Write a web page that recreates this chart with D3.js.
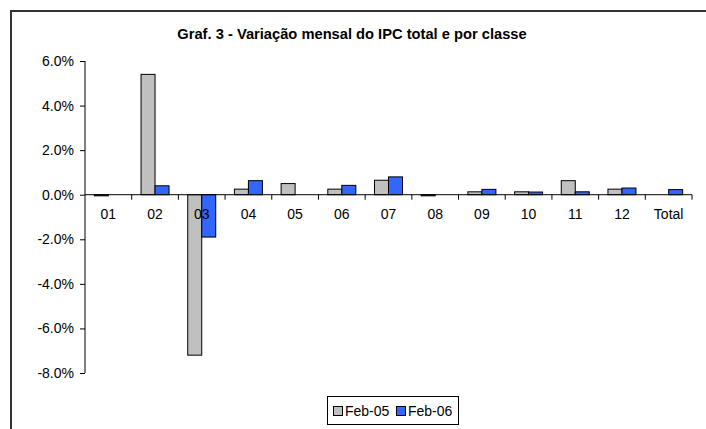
<!DOCTYPE html>
<html>
<head>
<meta charset="utf-8">
<script src="https://cdn.jsdelivr.net/npm/d3@7"></script>
<style>
  body { margin: 0; background: #fff; }
  svg { display: block; font-family: Arial, "Liberation Sans", sans-serif; }
</style>
</head>
<body>
<div id="chart"></div>
<script>
'use strict';

const categories = ['01', '02', '03', '04', '05', '06', '07', '08', '09', '10', '11', '12', 'Total'];
const seriesNames = ['Feb-05', 'Feb-06'];
const feb05 = [-0.05, 5.4, -7.2, 0.25, 0.5, 0.25, 0.65, -0.05, 0.13, 0.13, 0.63, 0.25, 0];
const feb06 = [0, 0.4, -1.9, 0.63, 0, 0.42, 0.8, 0, 0.24, 0.12, 0.13, 0.3, 0.23];
const yTicks = [6, 4, 2, 0, -2, -4, -6, -8];
const colors = ['#c0c0c0', '#3366ff'];

const width = 706;
const height = 429;
const fontSize = 14;

const svg = d3.select('#chart')
  .append('svg')
  .attr('width', width)
  .attr('height', height);

// chart area frame (runs off the right and bottom edge)
svg.append('path')
  .attr('d', 'M11,' + (height + 5) + 'V11H' + (width + 5))
  .attr('fill', 'none')
  .attr('stroke', '#333')
  .attr('stroke-width', 2);

svg.append('text')
  .attr('x', 352)
  .attr('y', 39)
  .attr('text-anchor', 'middle')
  .attr('font-size', 14.7)
  .attr('font-weight', 'bold')
  .text('Graf. 3 - Variação mensal do IPC total e por classe');

const x = d3.scaleBand()
  .domain(categories)
  .range([85, 692]);

const inner = d3.scaleBand()
  .domain(seriesNames)
  .range([0, x.bandwidth()])
  .paddingOuter(0.667);

const y = d3.scaleLinear()
  .domain([-8, 6])
  .range([373, 61]);

const data = categories.map((c, i) => ({ cat: c, values: [feb05[i], feb06[i]] }));

const groups = svg.append('g')
  .selectAll('g')
  .data(data)
  .enter()
  .append('g')
  .attr('transform', d => 'translate(' + x(d.cat) + ',0)');

groups.selectAll('rect')
  .data(d => d.values.map((v, j) => ({ name: seriesNames[j], value: v, color: colors[j] })))
  .enter()
  .filter(d => d.value !== 0)
  .append('rect')
  .attr('x', d => inner(d.name))
  .attr('width', inner.bandwidth())
  .attr('y', d => y(Math.max(0, d.value)))
  .attr('height', d => Math.abs(y(d.value) - y(0)))
  .attr('fill', d => d.color)
  .attr('stroke', '#000')
  .attr('stroke-width', 1);

// y axis
const yAxis = svg.append('g')
  .attr('transform', 'translate(85,0)')
  .call(d3.axisLeft(y)
    .tickValues(yTicks)
    .tickSize(5)
    .tickPadding(6)
    .tickFormat(d => d.toFixed(1) + '%'));
yAxis.select('.domain').attr('stroke', '#000').attr('d', 'M0,' + y(6) + 'V' + y(-8));
yAxis.selectAll('text').attr('font-size', fontSize).attr('fill', '#000').attr('font-family', 'Arial, "Liberation Sans", sans-serif');

// x axis at zero
const xAxis = svg.append('g')
  .attr('transform', 'translate(0,' + y(0) + ')');
xAxis.append('line')
  .attr('x1', 85)
  .attr('x2', 692)
  .attr('stroke', '#000');
xAxis.selectAll('.tick')
  .data(categories)
  .enter()
  .append('line')
  .attr('x1', d => x(d) + x.bandwidth())
  .attr('x2', d => x(d) + x.bandwidth())
  .attr('y1', 0)
  .attr('y2', 5)
  .attr('stroke', '#000');
xAxis.selectAll('.lbl')
  .data(categories)
  .enter()
  .append('text')
  .attr('x', d => x(d) + x.bandwidth() / 2)
  .attr('y', 24)
  .attr('text-anchor', 'middle')
  .attr('font-size', fontSize)
  .text(d => d);

// legend
const legend = svg.append('g');
legend.append('rect')
  .attr('x', 327.5)
  .attr('y', 396.5)
  .attr('width', 131)
  .attr('height', 28)
  .attr('fill', '#fff')
  .attr('stroke', '#000');
const legendX = [333, 396];
seriesNames.forEach((name, j) => {
  legend.append('rect')
    .attr('x', legendX[j] + 0.5)
    .attr('y', 406.5)
    .attr('width', 9)
    .attr('height', 9)
    .attr('fill', colors[j])
    .attr('stroke', '#000');
  legend.append('text')
    .attr('x', legendX[j] + 12)
    .attr('y', 416)
    .attr('font-size', fontSize)
    .text(name);
});
</script>
</body>
</html>
